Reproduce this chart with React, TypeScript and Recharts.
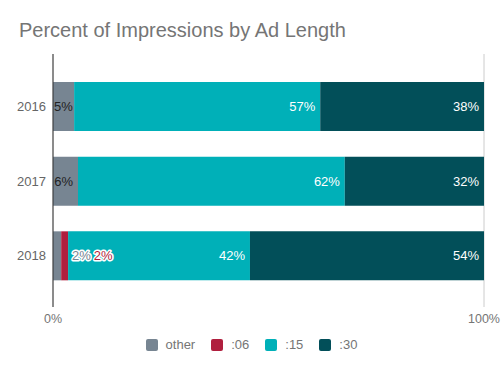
import { BarChart, Bar, XAxis, YAxis, CartesianGrid, LabelList } from 'recharts';

const years = ['2016', '2017', '2018'];
const otherPct = [4.9, 5.8, 1.9];
const sec06Pct = [0, 0, 1.6];
const sec15Pct = [57.1, 61.9, 42.2];
const sec30Pct = [38, 32.3, 54.3];

const seriesKeys = ['other', 's06', 's15', 's30'];
const seriesNames = ['other', ':06', ':15', ':30'];
const seriesColors = ['#778592', '#b01f3e', '#00b0b8', '#024f59'];
const labelColors = ['#222222', '#ffffff', '#ffffff', '#ffffff'];
const xTicks = [0, 100];

const FONT = "'Liberation Sans', Arial, sans-serif";

const rows = years.map((year, i) => ({
  year,
  other: otherPct[i],
  s06: sec06Pct[i],
  s15: sec15Pct[i],
  s30: sec30Pct[i],
}));

const pctText = (v: number) => `${Math.round(v)}%`;
// rough width of a label like "57%" at 13px
const labelWidth = (v: number) => String(Math.round(v)).length * 7.2 + 11.5;

// the LabelList gets the row's year as its value, so zero bars being skipped can't shift rows
const makeLabel = (k: number) => (props: any) => {
  const { x, y, width, height, value } = props;
  const row: any = rows.find((r) => r.year === String(value));
  if (!row) return null;
  const vals = seriesKeys.map((key) => row[key] as number);
  const v = vals[k];
  if (!v) return null;
  const pxPer = Number(width) / v;
  const cy = Number(y) + Number(height) / 2;

  const isSmall = (j: number) => vals[j] > 0 && vals[j] * pxPer < labelWidth(vals[j]) + 2;

  if (!isSmall(k)) {
    const tw = labelWidth(v);
    const start = Math.max(Number(x) + 1, Number(x) + Number(width) - 5 - tw);
    return (
      <text x={start} y={cy} textAnchor="start" dominantBaseline="central"
        fill={labelColors[k]} fontSize={13} fontFamily={FONT}>
        {pctText(v)}
      </text>
    );
  }

  // labels that don't fit go to the right of the last small segment, one after another
  const small = vals.map((_, j) => j).filter(isSmall);
  const left = Number(x) - vals.slice(0, k).reduce((a, b) => a + b, 0) * pxPer;
  const last = small[small.length - 1];
  let tx = left + vals.slice(0, last + 1).reduce((a, b) => a + b, 0) * pxPer + 4;
  for (const j of small) {
    if (j === k) break;
    tx += labelWidth(vals[j]) + 3;
  }
  return (
    <text x={tx} y={cy} textAnchor="start" dominantBaseline="central"
      fill={seriesColors[k]} stroke="#ffffff" strokeWidth={3} paintOrder="stroke"
      strokeLinejoin="round" fontSize={13} fontFamily={FONT}>
      {pctText(v)}
    </text>
  );
};

export default function App() {
  return (
    <div style={{ position: 'relative', width: 503, height: 371, fontFamily: FONT, background: '#fff' }}>
      <style>{'body{margin:0}'}</style>
      <div style={{ position: 'absolute', left: 19, top: 20, fontSize: 20, lineHeight: '20px', color: '#757575' }}>
        Percent of Impressions by Ad Length
      </div>

      <BarChart width={503} height={371} data={rows} layout="vertical"
        margin={{ top: 54, right: 19, bottom: 34, left: 8 }}>
        <CartesianGrid horizontal={false} stroke="#cccccc" />
        <XAxis type="number" domain={[0, 100]} ticks={xTicks} interval={0}
          tickFormatter={(v) => `${v}%`} axisLine={false} tickLine={false}
          tickSize={0} tickMargin={7} height={30}
          tick={{ fill: '#757575', fontSize: 12.5, fontFamily: FONT }} />
        <YAxis type="category" dataKey="year" width={45} axisLine={{ stroke: '#333333' }}
          tickLine={false} tickSize={0} tickMargin={7} padding={{ top: 15, bottom: 14 }}
          tick={{ fill: '#666666', fontSize: 13, fontFamily: FONT }} />
        {seriesKeys.map((key, k) => (
          <Bar key={key} dataKey={key} name={seriesNames[k]} stackId="a" fill={seriesColors[k]}
            barSize={49} isAnimationActive={false}>
            <LabelList dataKey="year" content={makeLabel(k)} />
          </Bar>
        ))}
      </BarChart>

      <div style={{ position: 'absolute', left: 0, top: 339, width: 503, height: 12, display: 'flex',
        justifyContent: 'center', alignItems: 'center', fontSize: 13, lineHeight: '12px', color: '#757575' }}>
        {seriesNames.map((name, k) => (
          <div key={name} style={{ display: 'flex', alignItems: 'center', marginRight: k < seriesNames.length - 1 ? 16 : 0 }}>
            <div style={{ width: 12, height: 12, borderRadius: 2, background: seriesColors[k], marginRight: 8 }} />
            <span>{name}</span>
          </div>
        ))}
      </div>
    </div>
  );
}
